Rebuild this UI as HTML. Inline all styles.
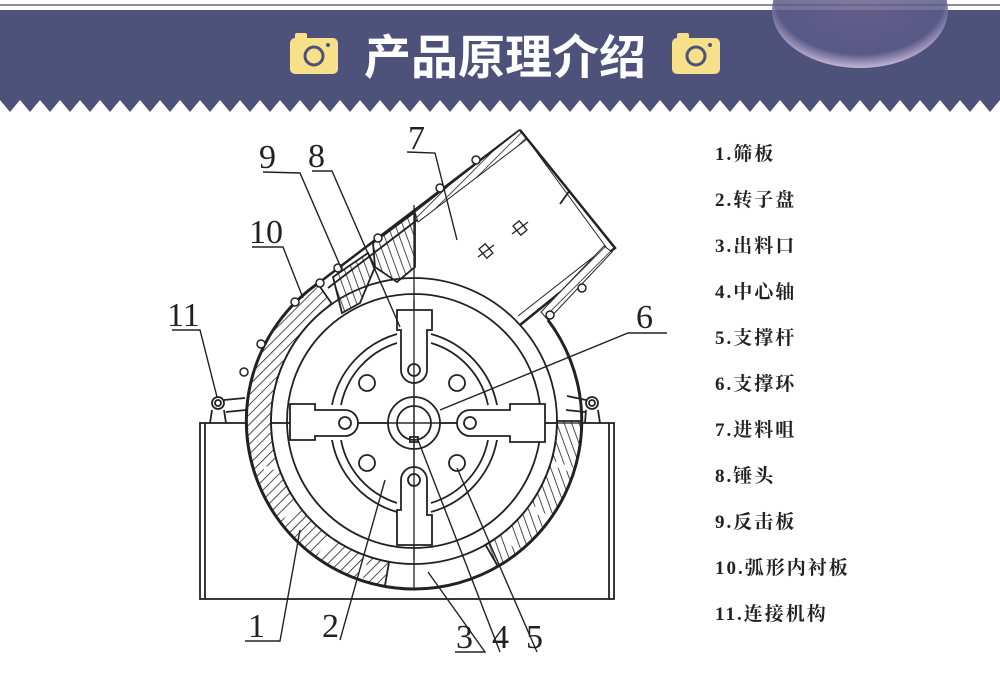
<!DOCTYPE html>
<html><head><meta charset="utf-8"><style>
html,body{margin:0;padding:0;background:#fff;}
body{width:1000px;height:694px;overflow:hidden;position:relative;font-family:"Liberation Serif","Noto Serif CJK SC",serif;}
.leg{position:absolute;left:715px;font-size:19px;font-weight:bold;color:#222;letter-spacing:2px;font-family:"Liberation Serif","Noto Serif CJK SC",serif;line-height:20px;}
</style></head><body>
<svg width="1000" height="694" viewBox="0 0 1000 694" xmlns="http://www.w3.org/2000/svg" style="position:absolute;left:0;top:0">
<defs>
<pattern id="h" width="7" height="7" patternUnits="userSpaceOnUse" patternTransform="rotate(45)">
<rect width="7" height="7" fill="#fff"/><line x1="0" y1="0" x2="0" y2="7" stroke="#222" stroke-width="1.6"/></pattern>
<pattern id="h2" width="7" height="7" patternUnits="userSpaceOnUse" patternTransform="rotate(-20)">
<rect width="7" height="7" fill="#fff"/><line x1="0" y1="0" x2="0" y2="7" stroke="#222" stroke-width="1.6"/></pattern>
<radialGradient id="bub" cx="50%" cy="40%" r="60%"><stop offset="0" stop-color="#6a5f8c"/><stop offset="0.8" stop-color="#5a5a88"/><stop offset="1" stop-color="#d8c8e8"/></radialGradient>
</defs>
<line x1="0" y1="5" x2="1000" y2="5" stroke="#8a8fa8" stroke-width="2"/>
<rect x="0" y="10" width="1000" height="87" fill="#4e5179"/>
<g fill="#4e5179">
<path d="M0,96 L1000,96 L1000,100 L990,112 L980,100 L970,112 L960,100 L950,112 L940,100 L930,112 L920,100 L910,112 L900,100 L890,112 L880,100 L870,112 L860,100 L850,112 L840,100 L830,112 L820,100 L810,112 L800,100 L790,112 L780,100 L770,112 L760,100 L750,112 L740,100 L730,112 L720,100 L710,112 L700,100 L690,112 L680,100 L670,112 L660,100 L650,112 L640,100 L630,112 L620,100 L610,112 L600,100 L590,112 L580,100 L570,112 L560,100 L550,112 L540,100 L530,112 L520,100 L510,112 L500,100 L490,112 L480,100 L470,112 L460,100 L450,112 L440,100 L430,112 L420,100 L410,112 L400,100 L390,112 L380,100 L370,112 L360,100 L350,112 L340,100 L330,112 L320,100 L310,112 L300,100 L290,112 L280,100 L270,112 L260,100 L250,112 L240,100 L230,112 L220,100 L210,112 L200,100 L190,112 L180,100 L170,112 L160,100 L150,112 L140,100 L130,112 L120,100 L110,112 L100,100 L90,112 L80,100 L70,112 L60,100 L50,112 L40,100 L30,112 L20,100 L10,112 L0,100 Z"/>
</g>
<ellipse cx="860" cy="10" rx="88" ry="58" fill="url(#bub)" opacity="0.85"/>
<g>
<rect x="290" y="38" width="48" height="36" rx="5" fill="#f6e08a"/><rect x="295" y="33" width="12" height="7" rx="2" fill="#f6e08a"/>
<circle cx="314" cy="56" r="9" fill="none" stroke="#4e5179" stroke-width="3"/><circle cx="328" cy="45" r="2" fill="#4e5179"/>
<rect x="672" y="38" width="48" height="36" rx="5" fill="#f6e08a"/><rect x="677" y="33" width="12" height="7" rx="2" fill="#f6e08a"/>
<circle cx="696" cy="56" r="9" fill="none" stroke="#4e5179" stroke-width="3"/><circle cx="710" cy="45" r="2" fill="#4e5179"/>
</g>
<text x="505" y="74" text-anchor="middle" fill="#fff" font-size="47" font-weight="bold" font-family="'Noto Sans CJK SC',sans-serif">产品原理介绍</text>

<g stroke="#222" stroke-width="1.8" fill="none">
<rect x="200" y="423" width="414" height="176"/>
<line x1="205" y1="423" x2="205" y2="599"/><line x1="609" y1="423" x2="609" y2="599"/>
<path d="M384.8,586.5 A168 168 0 0 1 317.6,283.4 L331.9,303.9 A143 143 0 0 0 389.1,561.8 Z" fill="url(#h)"/>
<path d="M582,421 A168 168 0 0 1 498,566.5 L485.5,544.8 A143 143 0 0 0 557,421 Z" fill="url(#h2)"/>
<g stroke="#fff" stroke-width="5">
<line x1="264" y1="470" x2="289" y2="462"/><line x1="283" y1="516" x2="305" y2="500"/><line x1="320" y1="556" x2="334" y2="535"/><line x1="360" y1="580" x2="366" y2="556"/>
<line x1="573" y1="470" x2="548" y2="462"/><line x1="550" y1="520" x2="528" y2="505"/><line x1="520" y1="552" x2="504" y2="532"/>
</g>
<polygon points="373,243 415,212 415,267 397,282 375,267" fill="url(#h2)"/>
<polygon points="333,277 368,253 375,267 360,303 342,313" fill="url(#h2)"/>
<path d="M414,589 A168 168 0 0 1 320,282" stroke-width="3"/>
<path d="M414,589 A168 168 0 0 0 548,320" stroke-width="3"/>
<circle cx="414" cy="421" r="143"/>
<circle cx="414" cy="421" r="127"/>
<line x1="320" y1="282" x2="520" y2="130" stroke-width="2.5"/>
<line x1="328" y1="288" x2="522" y2="140"/>
<polygon points="415,212 520,130 527,139 418,222" fill="url(#h)" stroke-width="1"/>
<polyline points="520,130 615,248 520,325" stroke-width="2.5"/>
<polyline points="527,139 606,247 518,316" stroke-width="1"/>
<polygon points="612,252 548,320 541,312 604,246" fill="url(#h)" stroke-width="1"/>
<line x1="570" y1="190" x2="560" y2="204"/>
<g stroke-width="1.3"><rect x="482" y="245" width="8" height="12" transform="rotate(-40 486 251)"/><rect x="516" y="222" width="8" height="12" transform="rotate(-40 520 228)"/><line x1="478" y1="257" x2="494" y2="245"/><line x1="512" y1="234" x2="528" y2="222"/></g>
<g fill="#fff" stroke-width="1.5">
<circle cx="244" cy="372" r="4"/><circle cx="261" cy="344" r="4"/><circle cx="295" cy="302" r="4"/><circle cx="320" cy="283" r="4"/><circle cx="338" cy="268" r="4"/><circle cx="378" cy="238" r="4"/><circle cx="440" cy="188" r="4"/><circle cx="476" cy="160" r="4"/>
<circle cx="582" cy="288" r="4"/><circle cx="550" cy="315" r="4"/>
</g>
<circle cx="218" cy="403" r="6"/><circle cx="218" cy="403" r="3"/>
<path d="M210,423 L212,410 M226,423 L224,410 M224,400 L245,398 M226,412 L246,410"/>
<circle cx="592" cy="403" r="6"/><circle cx="592" cy="403" r="3"/>
<path d="M600,423 L598,410 M585,423 L586,410 M586,400 L567,396 M585,412 L566,410"/>
<line x1="414" y1="205" x2="414" y2="588" stroke-width="1.3"/>
<line x1="285" y1="423" x2="590" y2="423" stroke-width="1.3"/>
<path d="M397,343 A82 82 0 0 0 341,405 M341,440 A82 82 0 0 0 397,503 M431,503 A82 82 0 0 0 488,440 M488,405 A82 82 0 0 0 431,343"/>
<path d="M397,334 A92 92 0 0 0 332,405 M332,440 A92 92 0 0 0 397,512 M431,512 A92 92 0 0 0 497,440 M497,405 A92 92 0 0 0 431,334"/>
<circle cx="367" cy="383" r="8"/><circle cx="457" cy="383" r="8"/><circle cx="367" cy="463" r="8"/><circle cx="457" cy="463" r="8"/>
<circle cx="414" cy="423" r="26" fill="#fff"/><circle cx="414" cy="423" r="17"/>
<rect x="410" y="437" width="8" height="5"/>
<line x1="388" y1="423" x2="440" y2="423" stroke-width="1.3"/><line x1="414" y1="397" x2="414" y2="449" stroke-width="1.3"/>
<path d="M345,410 L315,410 L315,404 L290,404 L290,440 L315,440 L315,436 L345,436 A13 13 0 0 0 345,410 Z" fill="#fff"/>
<circle cx="345" cy="423" r="6"/>
<path d="M470,410 L510,410 L510,404 L545,404 L545,442 L510,442 L510,436 L470,436 A13 13 0 0 1 470,410 Z" fill="#fff"/>
<circle cx="470" cy="423" r="6"/>
<path d="M401,370 L401,330 L397,330 L397,310 L432,310 L432,330 L427,330 L427,370 A13 13 0 0 1 401,370 Z" fill="#fff"/>
<circle cx="414" cy="370" r="6"/>
<path d="M401,480 L401,510 L397,510 L397,545 L432,545 L432,515 L427,515 L427,480 A13 13 0 0 0 401,480 Z" fill="#fff"/>
<circle cx="414" cy="480" r="6"/>
<line x1="388" y1="423" x2="440" y2="423" stroke-width="1.3"/>
<line x1="414" y1="300" x2="414" y2="560" stroke-width="1.3"/>
<g stroke-width="1.4">
<polyline points="263,172 300,173 342,270"/>
<polyline points="312,171 332,171 400,327"/>
<polyline points="407,152 435,153 457,240"/>
<polyline points="252,247 283,247 303,298"/>
<polyline points="172,330 200,330 217,397"/>
<polyline points="667,333 628,333 440,410"/>
<polyline points="245,641 280,641 300,530"/>
<line x1="340" y1="640" x2="385" y2="480"/>
<polyline points="455,652 485,652 428,572"/>
<line x1="500" y1="652" x2="418" y2="440"/>
<line x1="537" y1="652" x2="457" y2="468"/>
</g>
</g>
<g font-family="'Liberation Serif',serif" font-size="34" fill="#222">
<text x="259" y="168">9</text><text x="308" y="167">8</text><text x="408" y="149">7</text>
<text x="249" y="243">10</text><text x="167" y="326">11</text><text x="636" y="328">6</text>
<text x="248" y="637">1</text><text x="322" y="637">2</text><text x="456" y="648">3</text><text x="492" y="648">4</text><text x="526" y="648">5</text>
</g>
</svg>
<div class="leg" style="top:145px">1.筛板</div>
<div class="leg" style="top:191px">2.转子盘</div>
<div class="leg" style="top:237px">3.出料口</div>
<div class="leg" style="top:283px">4.中心轴</div>
<div class="leg" style="top:329px">5.支撑杆</div>
<div class="leg" style="top:375px">6.支撑环</div>
<div class="leg" style="top:421px">7.进料咀</div>
<div class="leg" style="top:467px">8.锤头</div>
<div class="leg" style="top:513px">9.反击板</div>
<div class="leg" style="top:559px">10.弧形内衬板</div>
<div class="leg" style="top:605px">11.连接机构</div>
</body></html>
